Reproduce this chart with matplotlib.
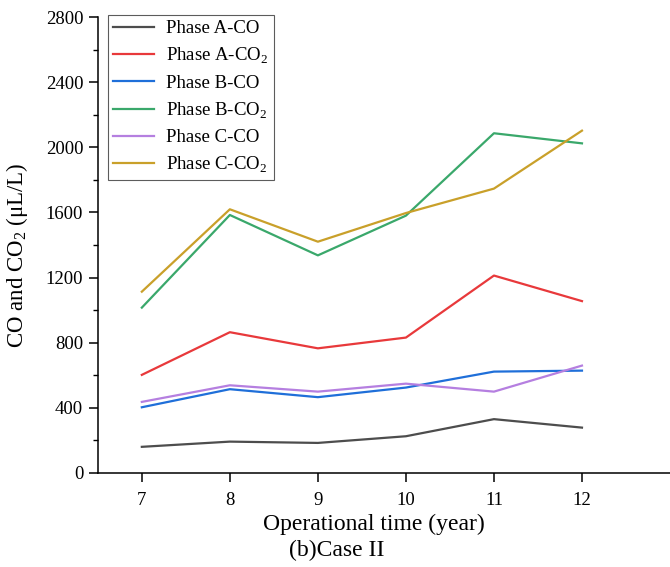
import matplotlib
matplotlib.use("Agg")
import matplotlib.pyplot as plt
from matplotlib.ticker import MultipleLocator

plt.rcParams["font.family"] = ["Liberation Serif", "DejaVu Serif"]
plt.rcParams["mathtext.fontset"] = "custom"
plt.rcParams["mathtext.rm"] = "Liberation Serif"

years = [7, 8, 9, 10, 11, 12]
phase_a_co = [160, 192, 184, 225, 330, 278]
phase_a_co2 = [602, 864, 765, 831, 1212, 1055]
phase_b_co = [403, 514, 465, 524, 622, 628]
phase_b_co2 = [1015, 1584, 1336, 1580, 2086, 2024]
phase_c_co = [436, 538, 499, 548, 499, 659]
phase_c_co2 = [1113, 1619, 1420, 1596, 1746, 2102]

series = [
    ("Phase A-CO", phase_a_co, "#4d4d4d"),
    ("Phase A-CO$_2$", phase_a_co2, "#e8393b"),
    ("Phase B-CO", phase_b_co, "#1f6fd9"),
    ("Phase B-CO$_2$", phase_b_co2, "#3aa86b"),
    ("Phase C-CO", phase_c_co, "#b57fe0"),
    ("Phase C-CO$_2$", phase_c_co2, "#c9a02a"),
]

fig = plt.figure(figsize=(6.7, 5.67), dpi=100)
ax = fig.add_axes([0.146, 0.166, 0.854, 0.804])

for label, vals, color in series:
    ax.plot(years, vals, color=color, linewidth=1.6, label=label)

ax.set_xlim(6.5, 13)
ax.set_ylim(0, 2800)
ax.set_xticks(years)
ax.set_yticks(range(0, 2801, 400))
ax.yaxis.set_minor_locator(MultipleLocator(200))
ax.spines["top"].set_visible(False)
ax.spines["right"].set_visible(False)
for s in ("left", "bottom"):
    ax.spines[s].set_linewidth(1.1)
ax.tick_params(direction="out", labelsize=13.5, length=6.5, width=1.1, pad=4)
ax.tick_params(axis="x", pad=7)
ax.tick_params(which="minor", direction="out", length=3.5, width=1.0)
ax.set_xlabel("Operational time (year)", fontsize=17)
ax.xaxis.set_label_coords(0.483, -0.09)
ax.set_ylabel("CO and CO$_2$ (μL/L)", fontsize=16.5)
ax.yaxis.set_label_coords(-0.118, 0.478)

leg = ax.legend(loc="upper left", bbox_to_anchor=(0.017, 1.005), fontsize=13.5,
                frameon=True, fancybox=False, edgecolor="#333333",
                handlelength=2.2, handletextpad=0.6, labelspacing=0.45,
                borderpad=0.3, borderaxespad=0.0)
leg.get_frame().set_linewidth(0.8)

fig.text(0.502, 0.02, "(b)Case II", ha="center", fontsize=17)

fig.savefig("out.png", dpi=100)
